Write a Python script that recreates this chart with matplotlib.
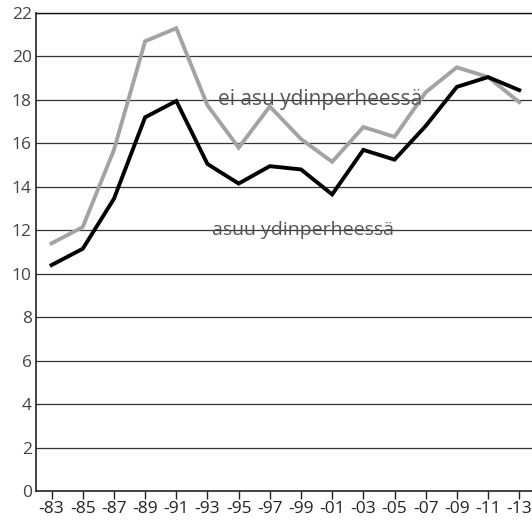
import matplotlib
matplotlib.use("Agg")
import matplotlib.pyplot as plt

years = ["-83", "-85", "-87", "-89", "-91", "-93", "-95", "-97",
         "-99", "-01", "-03", "-05", "-07", "-09", "-11", "-13"]
asuu = [10.4, 11.15, 13.45, 17.2, 17.95, 15.05, 14.15, 14.95,
        14.8, 13.65, 15.7, 15.25, 16.8, 18.6, 19.05, 18.45]
ei_asu = [11.4, 12.15, 15.7, 20.7, 21.3, 17.75, 15.8, 17.7,
          16.2, 15.15, 16.75, 16.3, 18.35, 19.5, 19.05, 17.9]
yticks = list(range(0, 23, 2))

plt.rcParams['font.family'] = ['Open Sans', 'DejaVu Sans']

fig = plt.figure(figsize=(5.32, 5.26), dpi=100)
ax = fig.add_axes([36/532, 35/526, 1 - 36/532, (491-13)/526])

x = list(range(len(years)))
for y in yticks[1:]:
    ax.axhline(y, color='#333333', lw=0.9, zorder=1)
ax.plot(x, ei_asu, color='#a3a3a3', lw=2.8, zorder=3, solid_joinstyle='miter')
ax.plot(x, asuu, color='black', lw=2.8, zorder=4, solid_joinstyle='miter')

ax.set_xlim(-0.5, 15.41)
ax.set_ylim(0, 22)
ax.set_xticks(x)
ax.set_xticklabels(years)
ax.set_yticks(yticks)
ax.tick_params(axis='y', length=0, pad=3, labelsize=12.5, labelcolor='#444444')
ax.tick_params(axis='x', length=6, width=1, direction='out', pad=1,
               labelsize=12.5, labelcolor='#222222', color='#222222')
for s in ['left', 'bottom']:
    ax.spines[s].set_color('#222222')
    ax.spines[s].set_linewidth(1.2)
ax.spines['right'].set_visible(False)
ax.spines['top'].set_color('#111111')
ax.spines['top'].set_linewidth(1.0)

ax.text(8.61, 18.0, "ei asu ydinperheessä", ha='center', va='center',
        fontsize=15, color='#555555', zorder=5)
ax.text(8.05, 12.0, "asuu ydinperheessä", ha='center', va='center',
        fontsize=14, color='#555555', zorder=5)

fig.savefig("out.png", dpi=100)
